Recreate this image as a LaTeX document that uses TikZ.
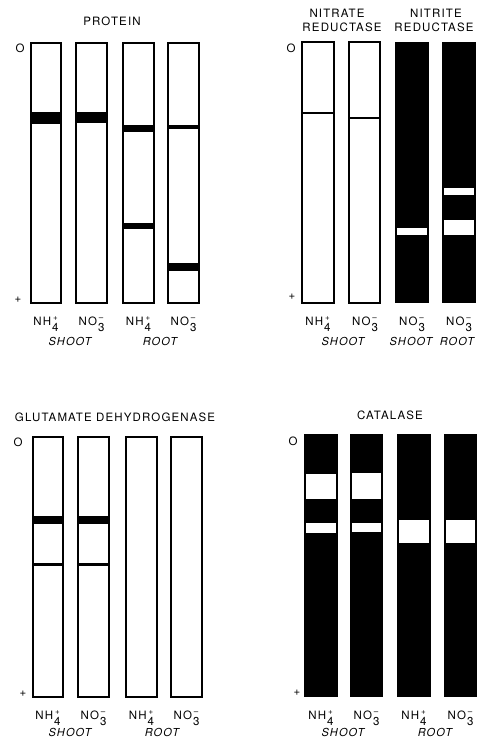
\documentclass[tikz,border=0pt]{standalone}
\usepackage{fontspec}
\setmainfont{TeX Gyre Heros}[LetterSpace=10]
% ion with charge stacked over the subscript
\newcommand{\ionlbl}[3]{#1\kern1pt\raisebox{-6pt}{\begin{tabular}[b]{@{}c@{}}\footnotesize #3\\[-2pt]#2\end{tabular}}}
\tikzset{
  lane/.style={draw, line width=1.1pt, fill=white},
  darklane/.style={fill=black},
  band/.style={fill=black},
  gap/.style={fill=white},
  head/.style={font=\fontsize{11.5}{13}\selectfont, inner sep=0pt, anchor=base},
  ion/.style={font=\fontsize{11.5}{13}\selectfont, inner sep=0pt, anchor=base},
  organ/.style={font=\fontsize{11}{13}\selectfont\itshape, inner sep=0pt, anchor=base},
  pole/.style={font=\fontsize{11.5}{13}\selectfont, inner sep=0pt}
}
\begin{document}
\begin{tikzpicture}[x=1pt, y=-1pt]
  \useasboundingbox (0,0) rectangle (480,738);

  % Protein
  \begin{scope}
    \node[head] (protTitle) at (112,26) {PROTEIN};
    \node[pole, anchor=base] (protO) at (20,53) {O};
    \node[pole] (protPlus) at (18,299.5) {+};

    % Lanes
    \draw[lane] (31,43) rectangle (61,303);
    \draw[lane] (76,43) rectangle (107,303);
    \draw[lane] (123,43) rectangle (154,303);
    \draw[lane] (168,43) rectangle (199,303);

    % Bands
    \fill[band] (31,112) rectangle (61,124);
    \fill[band] (76,112) rectangle (107,123);
    \fill[band] (123,125) rectangle (154,132);
    \fill[band] (168,125) rectangle (199,129);
    \fill[band] (123,223) rectangle (154,229);
    \fill[band] (168,263) rectangle (199,271);

    \node[ion] (protA) at (46,325) {\ionlbl{NH}{4}{+}};
    \node[ion] (protB) at (91.5,325) {\ionlbl{NO}{3}{--}};
    \node[ion] (protC) at (138.5,325) {\ionlbl{NH}{4}{+}};
    \node[ion] (protD) at (183.5,325) {\ionlbl{NO}{3}{--}};
    \node[organ] (protShoot) at (70,345) {SHOOT};
    \node[organ] (protRoot) at (160,345) {ROOT};
  \end{scope}

  % Nitrate and nitrite reductase
  \begin{scope}
    \node[head] (nrTitleA) at (337,18) {NITRATE};
    \node[head] (nrTitleB) at (342,32) {REDUCTASE};
    \node[head] (niTitleA) at (436,18) {NITRITE};
    \node[head] (niTitleB) at (434,32) {REDUCTASE};
    \node[pole, anchor=base] (nrO) at (291,53) {O};
    \node[pole] (nrPlus) at (292,297) {+};

    % Lanes
    \draw[lane] (302,42) rectangle (334,303);
    \draw[lane] (349,42) rectangle (380,303);
    \fill[darklane] (395,42) rectangle (429,303);
    \fill[darklane] (442,42) rectangle (476,303);

    % Bands
    \draw[line width=1.4pt] (302,113) -- (334,113);
    \draw[line width=2.4pt] (349,118) -- (380,118);
    \fill[gap] (397,228) rectangle (427,235);
    \fill[gap] (444,188) rectangle (474,195);
    \fill[gap] (444,220) rectangle (474,235);

    \node[ion] (nrA) at (318,325) {\ionlbl{NH}{4}{+}};
    \node[ion] (nrB) at (365,325) {\ionlbl{NO}{3}{--}};
    \node[ion] (niA) at (412,325) {\ionlbl{NO}{3}{--}};
    \node[ion] (niB) at (459,325) {\ionlbl{NO}{3}{--}};
    \node[organ] (nrShoot) at (343,345) {SHOOT};
    \node[organ] (niShoot) at (411,345) {SHOOT};
    \node[organ] (niRoot) at (457,345) {ROOT};
  \end{scope}

  % Glutamate dehydrogenase
  \begin{scope}
    \node[head] (gdhTitle) at (115,421) {GLUTAMATE DEHYDROGENASE};
    \node[pole, anchor=base] (gdhO) at (18,446) {O};
    \node[pole] (gdhPlus) at (23,694) {+};

    % Lanes
    \draw[lane] (33,437) rectangle (63,697);
    \draw[lane] (78,437) rectangle (109,697);
    \draw[lane] (126,437) rectangle (157,697);
    \draw[lane] (171,437) rectangle (202,697);

    % Bands
    \fill[band] (33,516) rectangle (63,524);
    \fill[band] (78,516) rectangle (109,524);
    \fill[band] (33,563) rectangle (63,566);
    \fill[band] (78,563) rectangle (109,566);

    \node[ion] (gdhA) at (48,719) {\ionlbl{NH}{4}{+}};
    \node[ion] (gdhB) at (93.5,719) {\ionlbl{NO}{3}{--}};
    \node[ion] (gdhC) at (141.5,719) {\ionlbl{NH}{4}{+}};
    \node[ion] (gdhD) at (186.5,719) {\ionlbl{NO}{3}{--}};
    \node[organ] (gdhShoot) at (70,736) {SHOOT};
    \node[organ] (gdhRoot) at (162,736) {ROOT};
  \end{scope}

  % Catalase
  \begin{scope}
    \node[head] (catTitle) at (390,419) {CATALASE};
    \node[pole, anchor=base] (catO) at (293,445) {O};
    \node[pole] (catPlus) at (297,693) {+};

    % Lanes
    \fill[darklane] (304,434) rectangle (338,697);
    \fill[darklane] (350,434) rectangle (383,697);
    \fill[darklane] (397,434) rectangle (431,697);
    \fill[darklane] (444,434) rectangle (477,697);

    % Bands
    \fill[gap] (306,474) rectangle (336,499);
    \fill[gap] (306,523) rectangle (336,533);
    \fill[gap] (352,473) rectangle (381,499);
    \fill[gap] (352,523) rectangle (381,532);
    \fill[gap] (399,520) rectangle (429,543);
    \fill[gap] (446,520) rectangle (475,543);

    \node[ion] (catA) at (321,719) {\ionlbl{NH}{4}{+}};
    \node[ion] (catB) at (366.5,719) {\ionlbl{NO}{3}{--}};
    \node[ion] (catC) at (414,719) {\ionlbl{NH}{4}{+}};
    \node[ion] (catD) at (460.5,719) {\ionlbl{NO}{3}{--}};
    \node[organ] (catShoot) at (343,736) {SHOOT};
    \node[organ] (catRoot) at (435,736) {ROOT};
  \end{scope}
\end{tikzpicture}
\end{document}
